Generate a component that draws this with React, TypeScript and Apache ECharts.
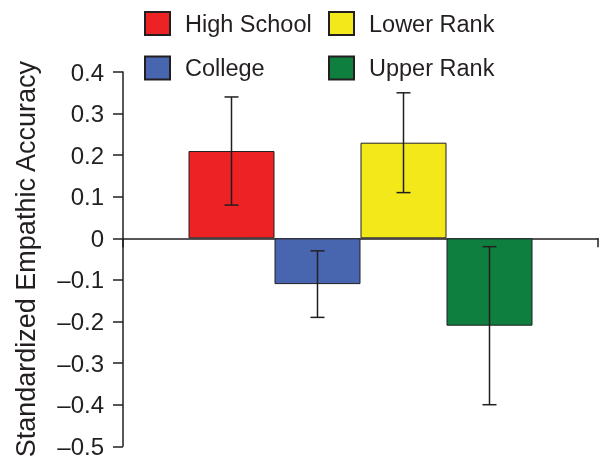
import React, { useEffect, useRef } from "react";
import * as echarts from "echarts";

const groups = ["High School", "College", "Lower Rank", "Upper Rank"];
const values = [0.21, -0.11, 0.23, -0.21];
const errLow = [0.08, -0.19, 0.11, -0.4];
const errHigh = [0.34, -0.03, 0.35, -0.02];
const colors = ["#ED2224", "#4866B0", "#F2E81A", "#0F7F3F"];
const yTicks = { min: -0.5, max: 0.4, interval: 0.1 };

const BAR_W = 86;
const CAP_W = 14;
const FONT = "'Liberation Sans', Arial, Helvetica, sans-serif";
const INK = "#231f20";

export default function App() {
  const ref = useRef<HTMLDivElement>(null);

  useEffect(() => {
    if (!ref.current) return;
    const chart = echarts.init(ref.current, null, { renderer: "svg" });

    const barSeries = groups.map((g, i) => ({
      name: g,
      type: "bar",
      data: [values[i]],
      barWidth: BAR_W,
      barGap: "0%",
      itemStyle: { color: colors[i], borderColor: INK, borderWidth: 1 },
      z: 2,
    }));

    const errData = groups.map((_, i) => [0, errLow[i], errHigh[i], i]);

    const errSeries = {
      type: "custom",
      data: errData,
      z: 5,
      encode: { x: 0, y: [1, 2] },
      renderItem: (params: any, api: any) => {
        const center = api.coord([0, 0])[0];
        const idx = api.value(3);
        const cx = center + (idx - (groups.length - 1) / 2) * BAR_W;
        const yTop = api.coord([0, api.value(2)])[1];
        const yBot = api.coord([0, api.value(1)])[1];
        const style = { stroke: INK, lineWidth: 1.5 };
        return {
          type: "group",
          children: [
            { type: "line", shape: { x1: cx, y1: yTop, x2: cx, y2: yBot }, style },
            { type: "line", shape: { x1: cx - CAP_W / 2, y1: yTop, x2: cx + CAP_W / 2, y2: yTop }, style },
            { type: "line", shape: { x1: cx - CAP_W / 2, y1: yBot, x2: cx + CAP_W / 2, y2: yBot }, style },
          ],
        };
      },
    };

    const legendCommon = {
      orient: "vertical",
      top: 11,
      padding: 0,
      icon: "rect",
      itemWidth: 25,
      itemHeight: 23,
      itemGap: 19.5,
      selectedMode: false,
      textStyle: { fontFamily: FONT, fontSize: 23.5, color: INK, padding: [0, 0, 0, 10] },
    };

    chart.setOption({
      animation: false,
      textStyle: { fontFamily: FONT },
      legend: [
        { ...legendCommon, left: 144, data: [groups[0], groups[1]] },
        { ...legendCommon, left: 328, data: [groups[2], groups[3]] },
      ],
      grid: { left: 123, right: 4, top: 72, bottom: 9, containLabel: false },
      xAxis: {
        type: "category",
        data: [""],
        axisLine: { onZero: true, lineStyle: { color: INK, width: 1.5 } },
        axisTick: { show: true, length: 9, lineStyle: { color: INK, width: 1.5 } },
        axisLabel: { show: false },
        splitLine: { show: false },
      },
      yAxis: {
        type: "value",
        min: yTicks.min,
        max: yTicks.max,
        interval: yTicks.interval,
        name: "Standardized Empathic Accuracy",
        nameLocation: "middle",
        nameGap: 84,
        nameTextStyle: { fontFamily: FONT, fontSize: 27, color: INK },
        axisLine: { show: true, lineStyle: { color: INK, width: 1.5 } },
        axisTick: { show: true, length: 10, lineStyle: { color: INK, width: 1.5 } },
        axisLabel: {
          fontFamily: FONT,
          fontSize: 24,
          color: INK,
          margin: 19,
          formatter: (v: number) => {
            const r = Math.round(v * 10) / 10;
            if (r === 0) return "0";
            return r < 0 ? "\u2013" + Math.abs(r).toFixed(1) : r.toFixed(1);
          },
        },
        splitLine: { show: false },
      },
      series: [...barSeries, errSeries],
    });

    return () => chart.dispose();
  }, []);

  return (
    <div
      ref={ref}
      style={{ position: "fixed", left: 0, top: 0, width: 602, height: 461 }}
    />
  );
}
